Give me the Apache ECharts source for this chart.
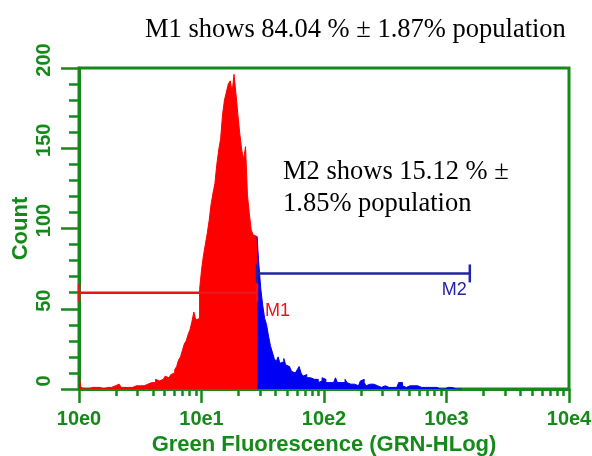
<!DOCTYPE html>
<html>
<head>
<meta charset="utf-8">
<script src="https://cdn.jsdelivr.net/npm/echarts@6/dist/echarts.min.js"></script>
<style>
  html, body { margin: 0; padding: 0; background: #ffffff; }
  #chart { width: 592px; height: 456px; }
</style>
</head>
<body>
<div id="chart"></div>
<script>
// Log-channel histogram of green fluorescence (GRN-HLog), 64 channels per decade.
const CHANNELS_PER_DECADE = 64;
const DECADES = 4;

// Event count per channel, starting at channel 0 (= 10e0).
const counts = [
  8, 1, 0, 1, 0, 1, 1, 0, 1, 0,
  1, 1, 0, 1, 1, 0, 1, 1, 2, 1,
  3, 2, 1, 1, 1, 1, 2, 1, 2, 2,
  1, 2, 3, 2, 3, 3, 4, 4, 5, 4,
  6, 5, 5, 6, 7, 8, 7, 8, 9, 10,
  12, 14, 18, 20, 24, 28, 30, 34, 37, 42,
  48, 43, 44, 62, 74, 83, 90, 97, 105, 115,
  122, 128, 140, 149, 156, 171, 180, 185, 190, 192,
  185, 196, 184, 171, 159, 149, 143, 151, 121, 109,
  99, 96, 95, 95, 77, 62, 52, 44, 40, 33,
  27, 23, 19, 17, 20, 16, 17, 19, 15, 14,
  13, 11, 10, 10, 12, 14, 10, 8, 9, 7,
  7, 6, 6, 5, 6, 4, 5, 7, 6, 4,
  4, 4, 4, 5, 7, 4, 4, 3, 4, 6,
  4, 3, 4, 3, 4, 2, 3, 5, 6, 4,
  2, 3, 2, 3, 2, 2, 2, 1, 1, 2,
  1, 1, 2, 1, 1, 1, 2, 4, 4, 2,
  1, 1, 2, 2, 2, 2, 2, 2, 1, 2,
  1, 1, 1, 0, 1, 0, 1, 1, 0, 1,
  0, 0, 1, 0, 1, 0, 0, 1, 0, 0
];

// First channel that belongs to the M2 gate; channels below it fall in M1.
const gateChannel = 93;

// Marker gates: [from, to] in fluorescence units, drawn at a count level.
const markerNames = ['M1', 'M2'];
const markerRanges = [[1, 28.4], [28.4, 1550]];
const markerLevels = [60, 72];
const markerColors = ['#e8161b', '#2323a6'];

const xTickLabels = ['10e0', '10e1', '10e2', '10e3', '10e4'];
const yTickLabels = ['0', '50', '100', '150', '200'];

const m1Note = 'M1 shows 84.04 % \u00b1 1.87% population';
const m2Note = 'M2 shows 15.12 % \u00b1\n1.85% population';

const GREEN = '#15891a';
const SANS = '"Liberation Sans", Arial, sans-serif';
const SERIF = '"Liberation Serif", "Times New Roman", serif';

function channelValue(ch) {
  return Math.pow(10, ch / CHANNELS_PER_DECADE);
}

// Step outline: each point sits on a channel's left edge and holds its count
// until the next edge; a closing zero point ends the block.
function stepData(from, to) {
  const pts = [];
  for (let ch = from; ch < to; ch++) pts.push([channelValue(ch), counts[ch]]);
  pts.push([channelValue(to), 0]);
  return pts;
}

// Minor ticks at 2..9 within each decade, placed on an exponent (log10) axis.
const minorTickExponents = [];
for (let d = 0; d < DECADES; d++) {
  for (let k = 2; k <= 9; k++) minorTickExponents.push(d + Math.log10(k));
}

const markerData = markerNames.map((n, i) => [markerRanges[i][0], markerRanges[i][1], markerLevels[i], i]);

const chart = echarts.init(document.getElementById('chart'), null, { renderer: 'canvas' });

chart.setOption({
  animation: false,
  backgroundColor: '#ffffff',
  title: [
    {
      text: m1Note, left: 145, top: 17, padding: 0,
      textStyle: { fontFamily: SERIF, fontSize: 26.5, fontWeight: 'normal', color: '#000000' }
    },
    {
      text: m2Note, left: 283, top: 156, padding: 0,
      textStyle: { fontFamily: SERIF, fontSize: 26.5, fontWeight: 'normal', color: '#000000', lineHeight: 32 }
    }
  ],
  grid: {
    left: 79, right: 23, top: 68, bottom: 67,
    outerBoundsMode: 'none', containLabel: false,
    show: true, borderColor: GREEN, borderWidth: 3, backgroundColor: 'transparent'
  },
  xAxis: [
    {
      type: 'log', logBase: 10, min: 1, max: Math.pow(10, DECADES),
      name: 'Green Fluorescence (GRN-HLog)',
      nameLocation: 'middle', nameGap: 45,
      nameTextStyle: { fontFamily: SANS, fontSize: 22, fontWeight: 'bold', color: GREEN },
      axisLine: { show: true, lineStyle: { color: GREEN, width: 3 } },
      axisTick: { show: true, length: 14, lineStyle: { color: GREEN, width: 2.5 } },
      minorTick: { show: false },
      splitLine: { show: false },
      axisLabel: {
        margin: 20, fontFamily: SANS, fontSize: 20, fontWeight: 'bold', color: GREEN,
        formatter: (v, i) => xTickLabels[i]
      }
    },
    {
      type: 'value', min: 0, max: DECADES, position: 'bottom',
      axisLine: { show: false },
      axisTick: { show: true, length: 7, customValues: minorTickExponents, lineStyle: { color: GREEN, width: 2.5 } },
      axisLabel: { show: false },
      splitLine: { show: false }
    }
  ],
  yAxis: {
    type: 'value', min: 0, max: 200, interval: 50,
    name: 'Count', nameLocation: 'middle', nameGap: 47, nameMoveOverlap: false,
    nameTextStyle: { fontFamily: SANS, fontSize: 22, fontWeight: 'bold', color: GREEN },
    axisLine: { show: true, lineStyle: { color: GREEN, width: 3 } },
    axisTick: { show: true, length: 18, lineStyle: { color: GREEN, width: 2.5 } },
    minorTick: { show: true, splitNumber: 5, length: 10, lineStyle: { color: GREEN, width: 2.5 } },
    splitLine: { show: false },
    axisLabel: {
      rotate: 90, margin: 25, fontFamily: SANS, fontSize: 20, fontWeight: 'bold', color: GREEN,
      padding: [0, 0, 0, 16],
      formatter: (v, i) => yTickLabels[i]
    }
  },
  series: [
    {
      name: 'M1 events', type: 'line', step: 'end', symbol: 'none', z: 3,
      data: stepData(0, gateChannel),
      lineStyle: { color: '#ff0000', width: 1 },
      areaStyle: { color: '#ff0000', opacity: 1 }
    },
    {
      name: 'M2 events', type: 'line', step: 'end', symbol: 'none', z: 3,
      data: stepData(gateChannel, counts.length),
      lineStyle: { color: '#0000f5', width: 1 },
      areaStyle: { color: '#0000f5', opacity: 1 }
    },
    {
      name: 'Markers', type: 'custom', z: 5,
      encode: { x: [0, 1], y: 2 },
      data: markerData,
      renderItem: function (params, api) {
        const idx = api.value(3);
        const color = markerColors[idx];
        const a = api.coord([api.value(0), api.value(2)]);
        const b = api.coord([api.value(1), api.value(2)]);
        const cap = 9;
        const lineStyle = { stroke: color, lineWidth: 2.5 };
        const isFirst = idx === 0;
        return {
          type: 'group',
          children: [
            { type: 'line', shape: { x1: a[0], y1: a[1], x2: b[0], y2: b[1] }, style: lineStyle },
            { type: 'line', shape: { x1: a[0], y1: a[1] - cap, x2: a[0], y2: a[1] + cap }, style: lineStyle },
            { type: 'line', shape: { x1: b[0], y1: b[1] - cap, x2: b[0], y2: b[1] + cap }, style: lineStyle },
            {
              type: 'text',
              x: isFirst ? b[0] + 8 : b[0] - 3,
              y: b[1] + (isFirst ? 18 : 17),
              style: {
                text: markerNames[idx], fill: color,
                font: '18px ' + SANS,
                align: isFirst ? 'left' : 'right', verticalAlign: 'middle'
              }
            }
          ]
        };
      }
    }
  ]
});
</script>
</body>
</html>
